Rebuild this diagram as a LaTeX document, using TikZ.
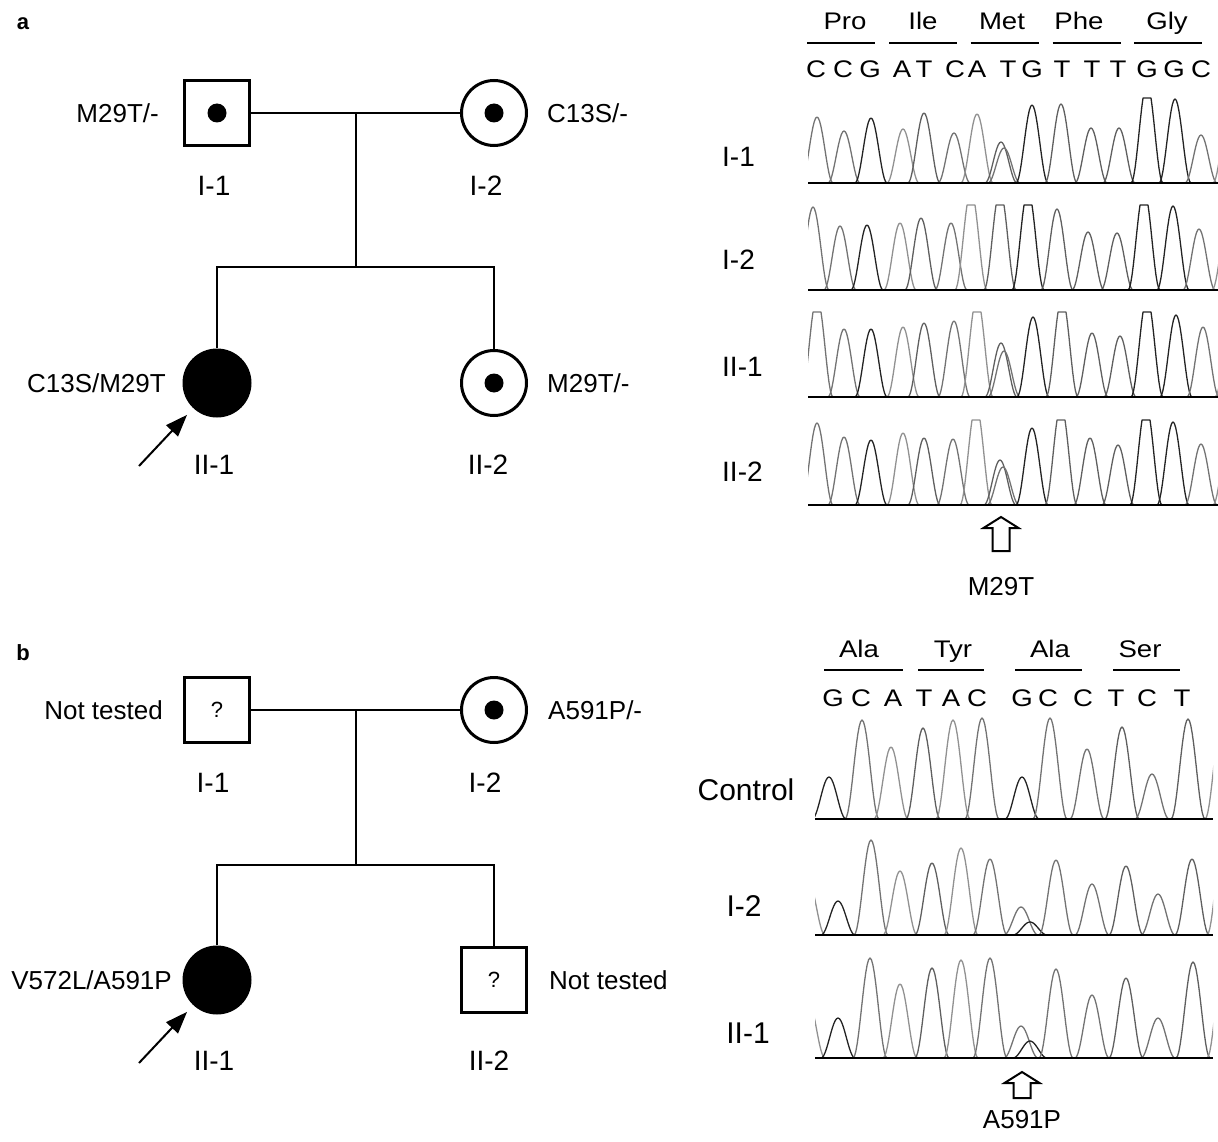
\documentclass[tikz,border=0pt]{standalone}
\usepackage{fontspec}
\setmainfont{Liberation Sans}
\newfontfamily\chromafont[FakeStretch=1.15]{Liberation Sans}
\usepackage{tikz}
\usetikzlibrary{arrows.meta,calc}
\definecolor{traceG}{RGB}{35,35,35}
\definecolor{traceC}{RGB}{115,115,115}
\definecolor{traceT}{RGB}{95,95,95}
\definecolor{traceA}{RGB}{145,145,145}

\begin{document}
\begin{tikzpicture}[x=1pt,y=-1pt,
    kin/.style={line width=2pt},
    male/.style={draw,rectangle,line width=3pt,minimum size=65pt,inner sep=0pt,fill=white,font=\fontsize{22}{26}\selectfont},
    female/.style={draw,circle,line width=3pt,minimum size=65pt,inner sep=0pt,fill=white},
    affected/.style={circle,fill=black,minimum size=69pt,inner sep=0pt},
    carrier/.style={circle,fill=black,minimum size=19pt,inner sep=0pt},
    geno/.style={font=\fontsize{26}{30}\selectfont,inner sep=0pt},
    idlab/.style={font=\fontsize{28}{32}\selectfont,inner sep=0pt},
    rowlab/.style={font=\fontsize{28}{32}\selectfont,inner sep=0pt},
    rowlabb/.style={font=\fontsize{30}{34}\selectfont,inner sep=0pt},
    codon/.style={font=\chromafont\fontsize{24}{28}\selectfont,inner sep=0pt,anchor=base},
    nuc/.style={font=\chromafont\fontsize{24}{28}\selectfont,inner sep=0pt,anchor=base},
    mutlab/.style={font=\fontsize{26}{30}\selectfont,inner sep=0pt},
    panellab/.style={font=\fontsize{22}{26}\selectfont\bfseries,inner sep=0pt},
    proband/.style={line width=2pt,-{Triangle[length=22pt,width=16pt]},shorten >=9pt},
    trace/.style={line width=1.3pt,line join=round},
    axisline/.style={line width=2pt},
    codonbar/.style={line width=2.5pt},
    openarrow/.style={line width=2pt,fill=white,line join=miter}]
    \useasboundingbox (0,0) rectangle (1218,1142);

    % panel a: pedigree
    \node[panellab] (alab) at (23,24) {a};
    \node[male] (aI1) at (217,113) {};
    \node[carrier] (aI1dot) at (aI1) {};
    \node[female] (aI2) at (494,113) {};
    \node[carrier] (aI2dot) at (aI2) {};
    \node[affected] (aII1) at (217,383) {};
    \node[female] (aII2) at (494,383) {};
    \node[carrier] (aII2dot) at (aII2) {};
    \coordinate (amate) at ($(aI1)!0.5!(aI2)$);
    \coordinate (asib) at ($(amate)+(0,154)$);
    \draw[kin] (aI1) -- (aI2);
    \draw[kin] (amate) -- (asib);
    \draw[kin] (aII1) |- (asib) -| (aII2);
    \coordinate (aprob) at (139,466);
    \draw[proband] (aprob) -- (aII1);

    \node[geno,anchor=east] (aI1g) at (159,113) {M29T/-};
    \node[geno,anchor=west] (aI2g) at (547,113) {C13S/-};
    \node[geno,anchor=east] (aII1g) at (166,383) {C13S/M29T};
    \node[geno,anchor=west] (aII2g) at (547,383) {M29T/-};
    \node[idlab] (aI1id) at (214,186) {I-1};
    \node[idlab] (aI2id) at (486,186) {I-2};
    \node[idlab] (aII1id) at (214,465) {II-1};
    \node[idlab] (aII2id) at (488,465) {II-2};

    % panel a: sequence traces
    \foreach \cx/\aa in {845/Pro,923/Ile,1002/Met,1079/Phe,1167/Gly}
        \node[codon] (acodon\aa) at (\cx,30) {\aa};
    \foreach \cx in {841,923,1004.5,1086.5,1168}
        \draw[codonbar] (\cx-34,43) -- (\cx+34,43);
    \foreach \nx/\nb [count=\i] in {816/C,843/C,870/G,902/A,924/T,955/C,977/A,1008/T,1032/G,1062/T,1092/T,1118/T,1147/G,1174/G,1201/C}
        \node[nuc] (anuc\i) at (\nx,78) {\nb};

    \node[rowlab,anchor=west] (arowI1) at (722,157) {I-1};
    \node[rowlab,anchor=west] (arowI2) at (722,260) {I-2};
    \node[rowlab,anchor=west] (arowII1) at (722,367) {II-1};
    \node[rowlab,anchor=west] (arowII2) at (722,472) {II-2};

    \begin{scope}
        \clip (808,90) rectangle (1218,560);
        \foreach \px/\ph/\pc in {817/66/traceC,844/52/traceC,871/65/traceG,903/54/traceA,924/70/traceT,954/50/traceC,977/69/traceA,1001/41/traceT,1004/35/traceC,1032/78/traceG,1061/79/traceT,1091/55/traceT,1119/55/traceT,1147/100/traceG,1175/84/traceG,1201/48/traceC,1229/70/traceA}
            \draw[trace,color=\pc] plot[domain=-16:16,samples=25] ({\px+\x},{183-min(\ph*(cos(\x*90/16))^2,85)});
        \foreach \px/\ph/\pc in {813/83/traceC,840/64/traceC,867/65/traceG,900/67/traceA,921/72/traceT,951/67/traceC,971/100/traceA,1000/100/traceT,1028/100/traceG,1057/81/traceT,1088/58/traceT,1117/57/traceT,1144/100/traceG,1173/84/traceG,1199/61/traceC,1228/70/traceA}
            \draw[trace,color=\pc] plot[domain=-16:16,samples=25] ({\px+\x},{290-min(\ph*(cos(\x*90/16))^2,85)});
        \foreach \px/\ph/\pc in {817/100/traceC,844/68/traceC,871/68/traceG,903/70/traceA,924/74/traceT,954/76/traceC,977/100/traceA,1001/54/traceT,1004/46/traceC,1033/80/traceG,1062/100/traceT,1092/64/traceT,1120/61/traceT,1147/100/traceG,1176/82/traceG,1203/70/traceC,1231/70/traceA}
            \draw[trace,color=\pc] plot[domain=-16:16,samples=25] ({\px+\x},{397-min(\ph*(cos(\x*90/16))^2,85)});
        \foreach \px/\ph/\pc in {817/82/traceC,844/68/traceC,871/65/traceG,903/72/traceA,924/67/traceT,953/66/traceC,976/100/traceA,1000/45/traceT,1003/38/traceC,1032/77/traceG,1061/100/traceT,1090/67/traceT,1118/60/traceT,1146/100/traceG,1173/83/traceG,1201/61/traceC,1229/70/traceA}
            \draw[trace,color=\pc] plot[domain=-16:16,samples=25] ({\px+\x},{505-min(\ph*(cos(\x*90/16))^2,85)});
    \end{scope}
    \foreach \by in {183,290,397,505}
        \draw[axisline] (808,\by) -- (1218,\by);

    \coordinate (atip) at (1001,517);
    \draw[openarrow] (atip) -- ++(17.5,11) -- ++(-9,0) -- ++(0,23) -- ++(-17,0) -- ++(0,-23) -- ++(-9,0) -- cycle;
    \node[mutlab] (amut) at (1001,587) {M29T};

    % panel b: pedigree
    \node[panellab] (blab) at (23,653) {b};
    \node[male] (bI1) at (217,710) {?};
    \node[female] (bI2) at (494,710) {};
    \node[carrier] (bI2dot) at (bI2) {};
    \node[affected] (bII1) at (217,980) {};
    \node[male] (bII2) at (494,980) {?};
    \coordinate (bmate) at ($(bI1)!0.5!(bI2)$);
    \coordinate (bsib) at ($(bmate)+(0,155)$);
    \draw[kin] (bI1) -- (bI2);
    \draw[kin] (bmate) -- (bsib);
    \draw[kin] (bII1) |- (bsib) -| (bII2);
    \coordinate (bprob) at (139,1063);
    \draw[proband] (bprob) -- (bII1);

    \node[geno,anchor=east] (bI1g) at (163,710) {Not tested};
    \node[geno,anchor=west] (bI2g) at (548,710) {A591P/-};
    \node[geno,anchor=east] (bII1g) at (172,980) {V572L/A591P};
    \node[geno,anchor=west] (bII2g) at (549,980) {Not tested};
    \node[idlab] (bI1id) at (213,783) {I-1};
    \node[idlab] (bI2id) at (485,783) {I-2};
    \node[idlab] (bII1id) at (214,1061) {II-1};
    \node[idlab] (bII2id) at (489,1061) {II-2};

    % panel b: sequence traces
    \foreach \cx/\aa [count=\i] in {859/Ala,953/Tyr,1050/Ala,1140/Ser}
        \node[codon] (bcodon\i) at (\cx,657) {\aa};
    \foreach \cx/\hw in {863.5/39.5,951/33,1048.5/33.5,1146.5/33.5}
        \draw[codonbar] (\cx-\hw,670) -- (\cx+\hw,670);
    \foreach \nx/\nb [count=\i] in {833/G,861/C,893/A,924/T,951/A,977/C,1022/G,1048/C,1083/C,1116/T,1147/C,1182/T}
        \node[nuc] (bnuc\i) at (\nx,706) {\nb};

    \node[rowlabb] (browC) at (746,790) {Control};
    \node[rowlabb] (browI2) at (744,906) {I-2};
    \node[rowlabb] (browII1) at (748,1033) {II-1};

    \begin{scope}
        \clip (815,600) rectangle (1213,1070);
        \foreach \px/\ph/\pc in {829/42/traceG,862/99/traceC,891/72/traceA,923/91/traceT,953/99/traceA,982/101/traceC,1022/42/traceG,1050/101/traceC,1087/70/traceC,1122/92/traceT,1152/45/traceC,1188/100/traceT,1222/100/traceA}
            \draw[trace,color=\pc] plot[domain=-17:17,samples=25] ({\px+\x},{819-\ph*(cos(\x*90/17))^2});
        \foreach \px/\ph/\pc in {808/55/traceA,838/34/traceG,871/95/traceC,900/64/traceA,932/72/traceT,961/87/traceA,990/76/traceC,1021/28/traceC,1030/13/traceG,1056/75/traceC,1092/51/traceC,1126/69/traceT,1158/41/traceC,1192/76/traceT,1224/100/traceA}
            \draw[trace,color=\pc] plot[domain=-17:17,samples=25] ({\px+\x},{935-\ph*(cos(\x*90/17))^2});
        \foreach \px/\ph/\pc in {808/58/traceA,838/40/traceG,870/100/traceC,900/74/traceA,932/90/traceT,961/98/traceA,990/100/traceC,1021/32/traceC,1030/17/traceG,1056/89/traceC,1092/63/traceC,1126/80/traceT,1158/40/traceC,1193/96/traceT,1224/100/traceA}
            \draw[trace,color=\pc] plot[domain=-17:17,samples=25] ({\px+\x},{1058-\ph*(cos(\x*90/17))^2});
    \end{scope}
    \foreach \by in {819,935,1058}
        \draw[axisline] (815,\by) -- (1213,\by);

    \coordinate (btip) at (1022,1072);
    \draw[openarrow] (btip) -- ++(17.5,11) -- ++(-9,0) -- ++(0,15) -- ++(-17,0) -- ++(0,-15) -- ++(-9,0) -- cycle;
    \node[mutlab] (bmut) at (1022,1120) {A591P};
\end{tikzpicture}
\end{document}
